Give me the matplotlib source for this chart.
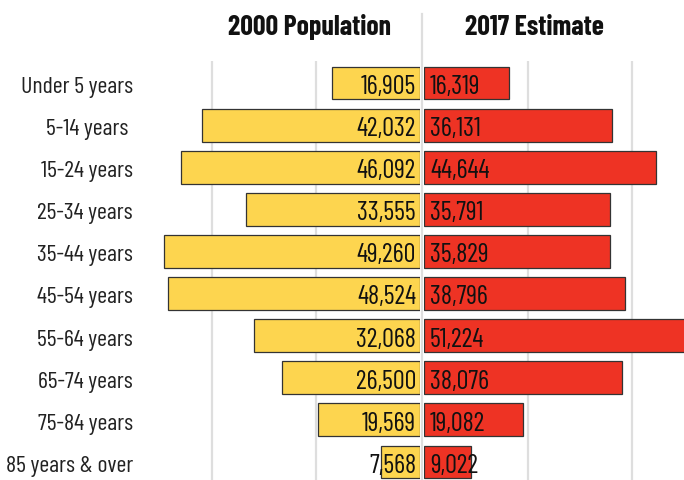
import matplotlib
matplotlib.use("Agg")
import matplotlib.pyplot as plt

plt.rcParams['font.family'] = ['Barlow Condensed', 'DejaVu Sans']

ages = ["Under 5 years", "5-14 years ", "15-24 years", "25-34 years", "35-44 years",
        "45-54 years", "55-64 years", "65-74 years", "75-84 years", "85 years & over"]
pop_2000 = [16905, 42032, 46092, 33555, 49260, 48524, 32068, 26500, 19569, 7568]
est_2017 = [16319, 36131, 44644, 35791, 35829, 38796, 51224, 38076, 19082, 9022]
grid_ticks = [20000, 40000]

W, H = 684, 481
px = 0.00519            # pixels per person
yellow = "#FDD54F"
red = "#EE3324"
edge = "#333333"
grid = "#dedede"

fig = plt.figure(figsize=(W / 100, H / 100), dpi=100)

# rows: centre of first at y=84px, spacing 42.1px
top, bottom = 62, 481
row0, step = 84, 42.11
ylim = (9 + (bottom - 463) / step, -(row0 - top) / step)

left_x0, mid_l, mid_r = 150, 420, 424
axl = fig.add_axes([left_x0 / W, 0, (mid_l - left_x0) / W, (H - top) / H])
axr = fig.add_axes([mid_r / W, 0, (W - mid_r) / W, (H - top) / H])
axl.set_xlim((mid_l - left_x0) / px, 0)
axr.set_xlim(0, (W - mid_r) / px)

rows = range(len(ages))
for ax, vals, col in [(axl, pop_2000, yellow), (axr, est_2017, red)]:
    ax.set_ylim(*ylim)
    ax.set_facecolor("none")
    for s in ax.spines.values():
        s.set_visible(False)
    ax.set_xticks([])
    ax.set_yticks([])
    for g in grid_ticks:
        ax.axvline(g, color=grid, lw=1.6, zorder=0)
    ax.barh(list(rows), vals, height=0.78, color=col, edgecolor=edge, linewidth=0.9, zorder=2)

for i in rows:
    axl.annotate(f"{pop_2000[i]:,}", xy=(0, i + 0.235), xycoords="data",
                 xytext=(-4 * 0.72, 0), textcoords="offset points",
                 ha="right", va="baseline", fontsize=19, color="#111111", zorder=3)
    axr.annotate(f"{est_2017[i]:,}", xy=(0, i + 0.235), xycoords="data",
                 xytext=(6 * 0.72, 0), textcoords="offset points",
                 ha="left", va="baseline", fontsize=19, color="#111111", zorder=3)
    axl.annotate(ages[i], xy=(133 / W, i + 0.21), xycoords=("figure fraction", "data"),
                 ha="right", va="baseline", fontsize=17.2, color="#222222",
                 annotation_clip=False)

# centre divider
fig.lines.append(plt.Line2D([421.5 / W] * 2, [0, 1 - 15 / H], color=grid, lw=1.6,
                            transform=fig.transFigure, zorder=0))

fig.text(309 / W, 1 - 35 / H, "2000 Population", ha="center", va="baseline",
         fontsize=20, weight="bold", color="#111111")
fig.text(534 / W, 1 - 35 / H, "2017 Estimate", ha="center", va="baseline",
         fontsize=20, weight="bold", color="#111111")

fig.savefig("out.png", dpi=100)
